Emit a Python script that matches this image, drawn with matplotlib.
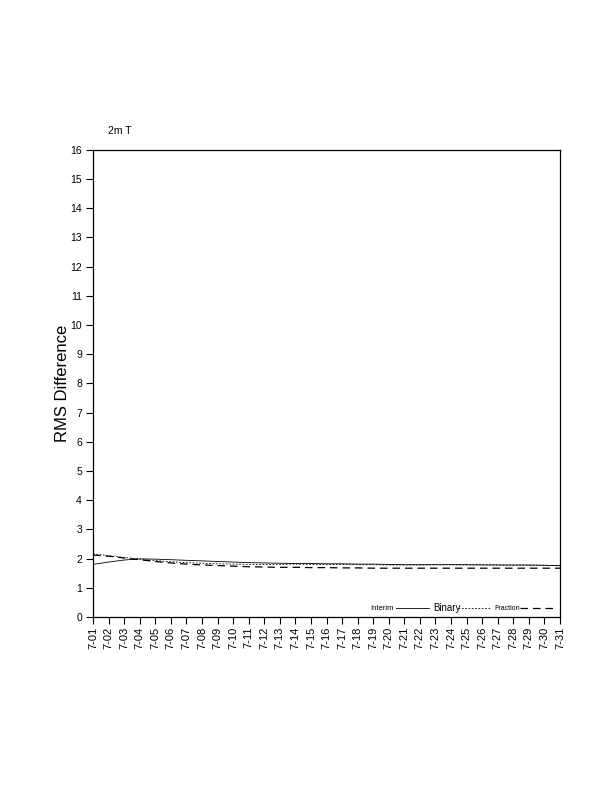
import numpy as np
import matplotlib
matplotlib.use("Agg")
import matplotlib.pyplot as plt

plt.rcParams['font.family'] = ['Liberation Sans', 'DejaVu Sans']

# daily RMS difference, July
days = [f"7-{d:02d}" for d in range(1, 32)]
interim = [1.80, 1.88, 1.95, 1.99, 1.98, 1.96, 1.94, 1.92, 1.90, 1.88, 1.86,
           1.85, 1.84, 1.83, 1.83, 1.82, 1.82, 1.81, 1.81, 1.80, 1.79, 1.79,
           1.79, 1.79, 1.79, 1.78, 1.78, 1.78, 1.78, 1.77, 1.76]
binary = [2.16, 2.10, 2.04, 1.98, 1.93, 1.89, 1.86, 1.84, 1.82, 1.81, 1.80,
          1.80, 1.80, 1.81, 1.80, 1.79, 1.80, 1.79, 1.79, 1.78, 1.78, 1.78,
          1.79, 1.79, 1.78, 1.79, 1.78, 1.77, 1.77, 1.77, 1.75]
fraction = [2.12, 2.08, 2.02, 1.96, 1.90, 1.85, 1.81, 1.78, 1.76, 1.74, 1.72,
            1.71, 1.70, 1.70, 1.69, 1.69, 1.68, 1.68, 1.67, 1.67, 1.67, 1.67,
            1.67, 1.67, 1.67, 1.67, 1.67, 1.67, 1.67, 1.67, 1.67]
yticks = list(range(0, 17))

fig = plt.figure(figsize=(6.12, 7.92), dpi=100)
ax = fig.add_axes([0.152, 0.221, 0.763, 0.590])

x = np.arange(len(days))
ax.plot(x, interim, color='black', lw=0.6, ls='-')
ax.plot(x, binary, color='black', lw=0.6, ls=(0, (2, 2)))
ax.plot(x, fraction, color='black', lw=0.9, ls=(0, (6, 4)))

ax.set_xlim(0, len(days) - 1)
ax.set_ylim(0, 16)
ax.set_yticks(yticks)
ax.set_xticks(x)
ax.set_xticklabels(days, rotation=90, fontsize=8)
ax.tick_params(axis='y', labelsize=7.5, direction='out', length=5, width=0.8, pad=3)
ax.tick_params(axis='x', direction='out', length=5, width=0.8, pad=2)
for s in ax.spines.values():
    s.set_linewidth(0.9)

ax.set_ylabel("RMS Difference", fontsize=12, labelpad=0)
fig.text(108 / 612, 1 - 131 / 792, "2m T", fontsize=7.5, ha='left', va='center')

# legend drawn NCL-style: label first, line after
legend_items = [("Interim", '-', 0.6, 5.5, 0.593, 0.649, 0.72),
                ("Binary", (0, (2, 2)), 0.6, 7, 0.729, 0.782, 0.850),
                ("Fraction", (0, (6, 4)), 0.9, 5, 0.860, 0.915, 0.990)]
ly = 0.019
for name, ls, lw, fs, tx, x0, x1 in legend_items:
    ax.text(tx, ly, name, transform=ax.transAxes, fontsize=fs, ha='left', va='center')
    ax.plot([x0, x1], [ly, ly], transform=ax.transAxes, color='black', lw=lw, ls=ls)

fig.savefig("out.png", dpi=100)
